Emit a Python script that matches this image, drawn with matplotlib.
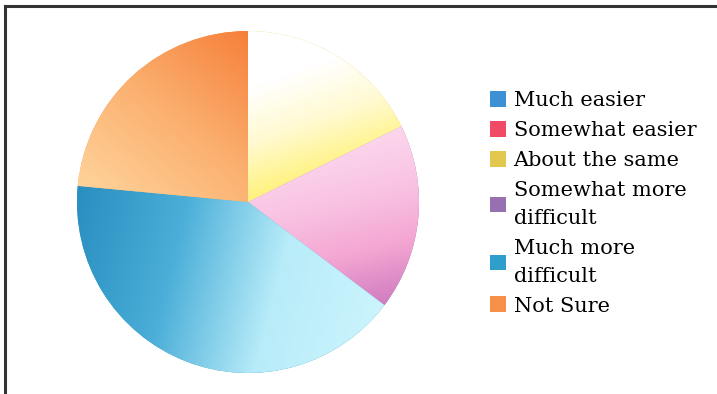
import numpy as np
import matplotlib
matplotlib.use("Agg")
import matplotlib.pyplot as plt
from matplotlib.colors import LinearSegmentedColormap
from matplotlib.lines import Line2D

# survey answers (share of respondents)
labels = ["Much easier", "Somewhat easier", "About the same",
          "Somewhat more\ndifficult", "Much more\ndifficult", "Not Sure"]
shares = [0, 0, 17.7, 17.6, 41.2, 23.5]
legend_colors = ["#3d8fd6", "#f04a64", "#e2c84e", "#9670b0", "#2f9ecb", "#f8904a"]

# gradient stops per slice: (colours, direction)
gradients = [
    None,
    None,
    (["#ffffff", "#ffffff", "#fffad0", "#fff27c"], (0.35, -1.0)),
    (["#fcd6ec", "#f9c4e4", "#f4a6d2", "#d07cc0"], (0.25, -1.0)),
    (["#2a8fc0", "#4aaed8", "#b8ecf9", "#cbf4fd"], (1.0, -0.25)),
    (["#ffd39a", "#fbb070", "#f6803a"], (0.8, 1.0)),
]

fig = plt.figure(figsize=(7.17, 3.94), dpi=100)
ax = fig.add_axes([77 / 717, (394 - 373) / 394, 342 / 717, 342 / 394])

wedges, _ = ax.pie(shares, colors=legend_colors, startangle=90, counterclock=False,
                   radius=1.0, wedgeprops=dict(linewidth=0))
ax.set_xlim(-1, 1)
ax.set_ylim(-1, 1)
ax.set_aspect("equal")
ax.axis("off")

# fill each slice with a linear gradient clipped to the wedge
xx, yy = np.meshgrid(np.linspace(-1, 1, 400), np.linspace(-1, 1, 400))
for w, g in zip(wedges, gradients):
    if g is None:
        continue
    cols, (dx, dy) = g
    proj = xx * dx + yy * dy
    verts = w.get_path().vertices
    pv = verts[:, 0] * dx + verts[:, 1] * dy
    t = (proj - pv.min()) / (pv.max() - pv.min())
    cmap = LinearSegmentedColormap.from_list("g", cols)
    im = ax.imshow(np.clip(t, 0, 1), cmap=cmap, vmin=0, vmax=1, origin="lower",
                   extent=(-1, 1, -1, 1), interpolation="bilinear", zorder=2)
    im.set_clip_path(w)

leg = fig.legend(wedges, labels, loc="upper left", bbox_to_anchor=(490 / 717, 1 - 91 / 394),
                 frameon=False, prop=dict(family="DejaVu Serif", size=15),
                 handlelength=0.78, handleheight=0.78, handletextpad=0.35,
                 labelspacing=0.52, borderpad=0, borderaxespad=0)
for txt in leg.get_texts():
    txt.set_linespacing(1.6)

# scanned frame: top and left edges only
fig.add_artist(Line2D([5 / 717, 1.0], [1 - 6 / 394, 1 - 6 / 394], color="#333333", lw=2.2))
fig.add_artist(Line2D([5 / 717, 5 / 717], [0, 1 - 6 / 394], color="#333333", lw=2.2))

fig.savefig("out.png", dpi=100)
